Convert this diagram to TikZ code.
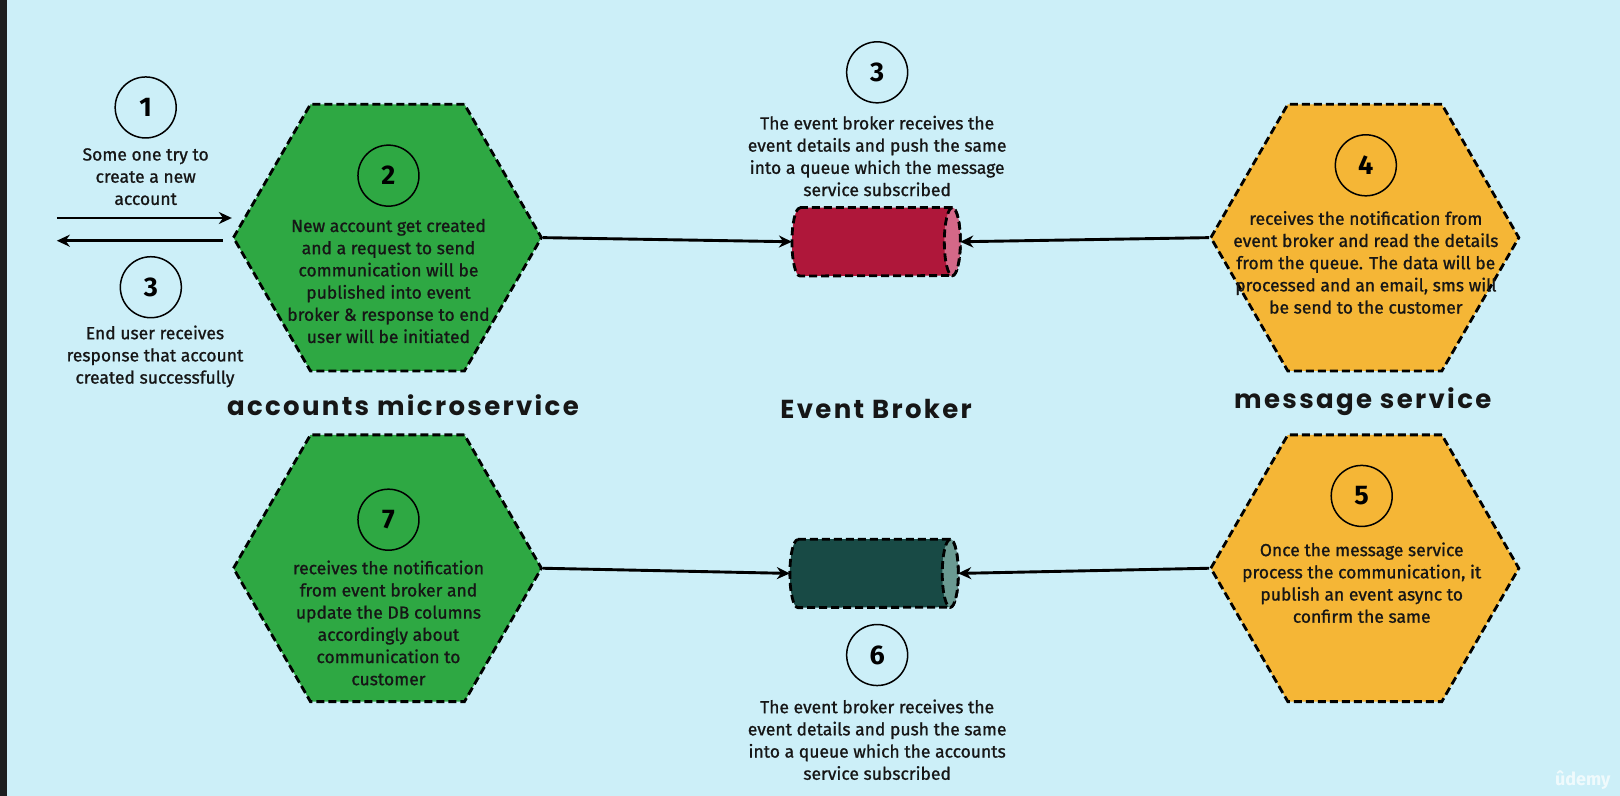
\documentclass[tikz,border=0pt]{standalone}
\usepackage{fontspec}
\setmainfont{Fira Sans}
\newfontfamily\descfont{Fira Sans}[FakeBold=1.0]
\newfontfamily\titlefont{Poppins}[LetterSpace=9.0]
\usetikzlibrary{shapes.geometric,positioning,arrows.meta}

\definecolor{bgcyan}{RGB}{204,239,248}
\definecolor{stripdark}{RGB}{28,30,32}
\definecolor{accgreen}{RGB}{46,168,67}
\definecolor{msgorange}{RGB}{245,182,54}
\definecolor{qred}{RGB}{175,23,58}
\definecolor{qredend}{RGB}{212,104,136}
\definecolor{qteal}{RGB}{24,74,69}
\definecolor{qtealend}{RGB}{106,154,146}
\definecolor{inkdark}{RGB}{22,22,22}

\tikzset{
  hexbox/.style={regular polygon, regular polygon sides=6, minimum size=308pt,
    inner sep=0pt, draw=black, line width=2.8pt, dash pattern=on 8pt off 4pt},
  numcirc/.style={circle, draw=black, line width=1.5pt, minimum size=61pt,
    inner sep=0pt, font=\fontsize{27}{27}\selectfont\bfseries},
  desc/.style={align=center, text=inkdark, font=\descfont\fontsize{17.5}{22.2}\selectfont},
  titletxt/.style={text=inkdark, font=\titlefont\fontsize{26}{26}\selectfont\bfseries},
  queueslot/.style={rectangle, minimum width=168pt, minimum height=68pt, inner sep=0pt},
  queueline/.style={draw=black, line width=2.8pt, dash pattern=on 8pt off 4pt},
  flow/.style={line width=2.9pt, -{Stealth[length=13pt,width=12pt]}}
}

\begin{document}
\begin{tikzpicture}[x=1.0332pt,y=-1.0332pt]
  % background
  \fill[bgcyan] (0,0) rectangle (1568,770.4);
  \fill[stripdark] (0,0) rectangle (6.8,770.4);
  \useasboundingbox (0,0) rectangle (1568,770.4);

  % services
  \node[hexbox, fill=accgreen] (hexA) at (375,230) {};
  \node[hexbox, fill=msgorange] (hexB) at (1321,230) {};
  \node[hexbox, fill=accgreen] (hexC) at (375,550) {};
  \node[hexbox, fill=msgorange] (hexD) at (1321,550) {};

  % queues of the event broker
  \node[queueslot] (redq) at (848,234) {};
  \filldraw[queueline, fill=qred] ([xshift=8pt]redq.north west) -- ([xshift=-8pt]redq.north east)
    arc[start angle=90, end angle=-90, x radius=8pt, y radius=34pt]
    -- ([xshift=8pt]redq.south west)
    arc[start angle=270, end angle=90, x radius=8pt, y radius=34pt] -- cycle;
  \filldraw[queueline, fill=qredend] ([xshift=-8pt]redq.east) ellipse[x radius=8pt, y radius=34pt];

  \node[queueslot] (tealq) at (846,555) {};
  \filldraw[queueline, fill=qteal] ([xshift=8pt]tealq.north west) -- ([xshift=-8pt]tealq.north east)
    arc[start angle=90, end angle=-90, x radius=8pt, y radius=34pt]
    -- ([xshift=8pt]tealq.south west)
    arc[start angle=270, end angle=90, x radius=8pt, y radius=34pt] -- cycle;
  \filldraw[queueline, fill=qtealend] ([xshift=-8pt]tealq.east) ellipse[x radius=8pt, y radius=34pt];

  % titles
  \node[titletxt] (accTitle) at (390,392) {accounts microservice};
  \node[titletxt] (brokerTitle) at (848,396) {Event Broker};
  \node[titletxt] (msgTitle) at (1319,389) {message service};

  % step 1 and 3, end user
  \node[numcirc] (c1) at (141,104) {1};
  \node[desc] (t1) at (141,171) {Some one try to\\create a new\\account};
  \node[numcirc] (c3a) at (146,278) {3};
  \node[desc] (t3a) at (150,345) {End user receives\\response that account\\created successfully};
  \coordinate (userIn) at (55,211);
  \coordinate (userOut) at (55,233);
  \draw[flow] (userIn) -- (userIn -| hexA.west);
  \draw[flow, shorten <=9pt] (userOut -| hexA.west) -- (userOut);

  % step 2
  \node[numcirc] (c2) at (376,170) {2};
  \node[desc] (t2) at (376,272) {New account get created\\and a request to send\\communication will be\\published into event\\broker \& response to end\\user will be initiated};

  % step 3, broker
  \node[numcirc] (c3b) at (849,70) {3};
  \node[desc] (t3b) at (849,151) {The event broker receives the\\event details and push the same\\into a queue which the message\\service subscribed};

  % step 4
  \node[numcirc] (c4) at (1322,160) {4};
  \node[desc] (t4) at (1322,254) {receives the notification from\\event broker and read the details\\from the queue. The data will be\\processed and an email, sms will\\be send to the customer};

  % step 5
  \node[numcirc] (c5) at (1318,480) {5};
  \node[desc] (t5) at (1318,564) {Once the message service\\process the communication, it\\publish an event async to\\confirm the same};

  % step 6
  \node[numcirc] (c6) at (849,634) {6};
  \node[desc] (t6) at (849,716) {The event broker receives the\\event details and push the same\\into a queue which the accounts\\service subscribed};

  % step 7
  \node[numcirc] (c7) at (376,503) {7};
  \node[desc] (t7) at (376,603) {receives the notification\\from event broker and\\update the DB columns\\accordingly about\\communication to\\customer};

  % event flow
  \draw[flow] (hexA.east) -- (redq.west);
  \draw[flow] (hexB.west) -- (redq.east);
  \draw[flow] (hexC.east) -- (tealq.west);
  \draw[flow] (hexD.west) -- (tealq.east);

  % watermark
  \node[text=white, opacity=0.7, font=\fontsize{18}{18}\selectfont\bfseries] (mark) at (1532,755) {ûdemy};
\end{tikzpicture}
\end{document}
